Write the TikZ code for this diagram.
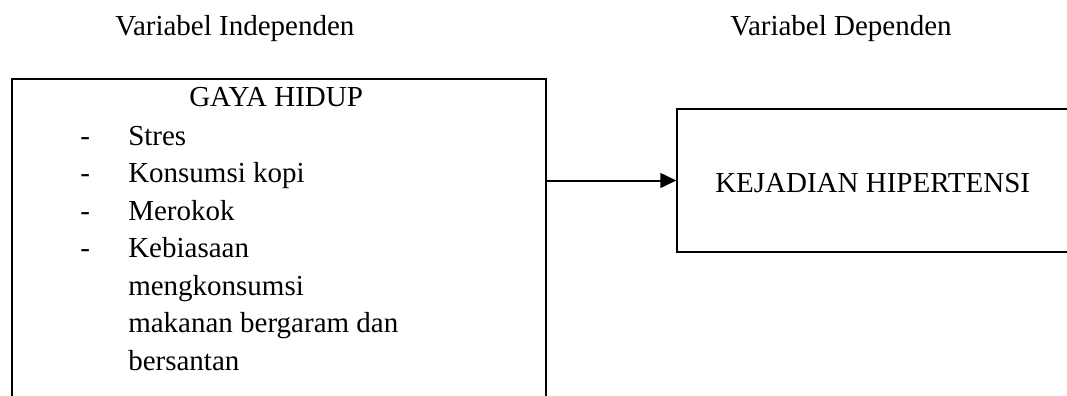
\documentclass[tikz,border=0pt]{standalone}
\usepackage{fontspec}
\setmainfont{Liberation Serif}
\usetikzlibrary{arrows.meta}
\begin{document}
\begin{tikzpicture}[x=0.75pt,y=-0.75pt,
  txt/.style={inner sep=0pt, anchor=base west, font=\fontsize{21.75}{26}\selectfont},
  boxline/.style={draw=black, line width=0.9pt, rectangle, inner sep=0pt},
  link/.style={draw=black, line width=1.5pt, -{Triangle[length=12pt,width=11pt]}}]
\useasboundingbox (0,0) rectangle (1067,396);
\clip (0,0) rectangle (1067,396);
% boxes (open edges run past the picture's border)
\node[boxline, minimum width=400.5pt, minimum height=263.25pt] (gh) at (279,254.5) {};
\node[boxline, minimum width=324.75pt, minimum height=107.25pt] (kh) at (893.5,180.5) {};
% headers
\node[txt] (h1) at (115,36) {Variabel Independen};
\node[txt] (h2) at (730,36) {Variabel Dependen};
% left box content
\node[txt] (t0) at (189,106) {GAYA HIDUP};
\node[txt] (d1) at (80,145) {-};
\node[txt] (i1) at (128,145) {Stres};
\node[txt] (d2) at (80,182.5) {-};
\node[txt] (i2) at (128,182.5) {Konsumsi kopi};
\node[txt] (d3) at (80,220) {-};
\node[txt] (i3) at (128,220) {Merokok};
\node[txt] (d4) at (80,257.5) {-};
\node[txt] (i4) at (128,257.5) {Kebiasaan};
\node[txt] (i5) at (128,295) {mengkonsumsi};
\node[txt] (i6) at (128,332.5) {makanan bergaram dan};
\node[txt] (i7) at (128,370) {bersantan};
% right box content
\node[txt] (k) at (715,192) {KEJADIAN HIPERTENSI};
% connector
\draw[link] (gh.east |- kh.west) -- (kh.west);
\end{tikzpicture}
\end{document}
